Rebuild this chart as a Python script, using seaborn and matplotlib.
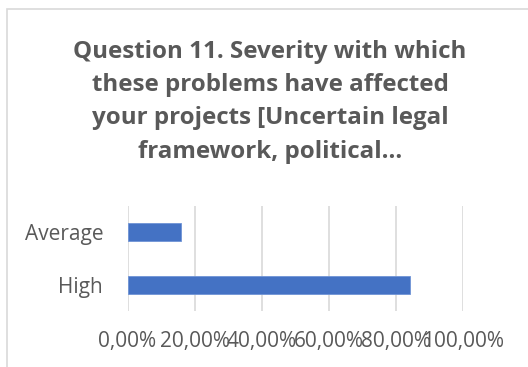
import matplotlib
matplotlib.use("Agg")
import matplotlib.pyplot as plt
import seaborn as sns
import pandas as pd
from matplotlib.ticker import FuncFormatter
from matplotlib.patches import Rectangle

categories = ["Average", "High"]
values = [15.8, 84.2]
ticks = [0, 20, 40, 60, 80, 100]
title_lines = ["Question 11. Severity with which",
               "these problems have affected",
               "your projects [Uncertain legal",
               "framework, political\u2026"]

sns.set_theme(style="white")
plt.rcParams['font.family'] = ['Open Sans', 'DejaVu Sans']

W, H = 528, 367
fig = plt.figure(figsize=(W / 100, H / 100), dpi=100)
fig.patch.set_facecolor("white")

# chart border (cropped at right and bottom)
fig.patches.append(Rectangle((7 / W, -0.1), 1.2, (H - 9) / H + 0.1,
                             transform=fig.transFigure, fill=False,
                             edgecolor="#d9d9d9", linewidth=1.2))

ax = fig.add_axes([127.5 / W, (H - 311) / H, (463 - 127.5) / W, (311 - 206) / H])
df = pd.DataFrame({"cat": categories, "val": values})
sns.barplot(data=df, x="val", y="cat", ax=ax, color="#4472C4",
            width=0.34, edgecolor="#6f94d6", linewidth=0.6, saturation=1)

ax.set_xlim(0, 100)
ax.set_xticks(ticks)
ax.xaxis.set_major_formatter(FuncFormatter(lambda v, p: f"{v:.2f}%".replace(".", ",")))
ax.grid(axis="x", color="#d9d9d9", linewidth=1.2)
ax.set_axisbelow(True)
for s in ax.spines.values():
    s.set_visible(False)
ax.set_xlabel("")
ax.set_ylabel("")
ax.tick_params(axis="x", length=0, pad=14.4, labelsize=15, labelcolor="#595959")
ax.tick_params(axis="y", length=0, pad=17.5, labelsize=15, labelcolor="#595959")

baselines = [57.5, 91.0, 124.5, 158.0]
for line, yb in zip(title_lines, baselines):
    fig.text(270 / W, 1 - yb / H, line, ha="center", va="baseline",
             fontsize=17.4, fontweight="bold", color="#595959")

fig.savefig("out.png", dpi=100, facecolor="white")
